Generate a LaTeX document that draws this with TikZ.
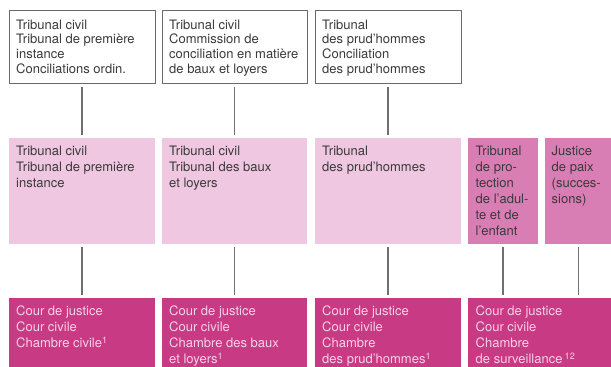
\documentclass[tikz,border=0pt]{standalone}
\usepackage{fontspec}
\setmainfont{TeX Gyre Heros}
\definecolor{framegray}{HTML}{6A6A6A}
\definecolor{linegray}{HTML}{707070}
\definecolor{inkgray}{HTML}{3A3A3A}
\definecolor{palepink}{HTML}{EFC7E0}
\definecolor{midpink}{HTML}{D97EB4}
\definecolor{deepmagenta}{HTML}{C93A85}
\definecolor{softwhite}{HTML}{F6D2E6}
\tikzset{
  box/.style={anchor=north west, inner sep=0pt, outer sep=0pt, rectangle},
  topbox/.style={box, draw=framegray, line width=0.8pt, fill=white},
  midbox/.style={box, fill=palepink},
  sidebox/.style={box, fill=midpink},
  courtbox/.style={box, fill=deepmagenta},
  lbl/.style={anchor=base west, inner sep=0pt, text=inkgray,
    font=\fontsize{13}{16}\selectfont},
  toplbl/.style={lbl, font=\fontsize{13}{14.7}\selectfont},
  courtlbl/.style={lbl, text=softwhite},
  conn/.style={draw=linegray, line width=1.3pt,
    shorten <=3pt, shorten >=2.5pt},
}
\newcommand{\lines}[2]{\parbox[t]{#1pt}{\raggedright #2}}
\begin{document}
\begin{tikzpicture}[x=1pt,y=-1pt]
\useasboundingbox (0,0) rectangle (611,367);

% first instance of conciliation
\node[topbox, minimum width=146pt, minimum height=73.5pt] (t1) at (9,10) {};
\node[topbox, minimum width=145pt, minimum height=73.5pt] (t2) at (162,10) {};
\node[topbox, minimum width=146pt, minimum height=73.5pt] (t3) at (315,10) {};
\node[toplbl] at (16,29) {\lines{135}{Tribunal civil\\Tribunal de première\\instance\\Conciliations ordin.}};
\node[toplbl] at (169,29) {\lines{135}{Tribunal civil\\Commission de\\conciliation en matière\\de baux et loyers}};
\node[toplbl] at (322,29) {\lines{135}{Tribunal\\des prud’hommes\\Conciliation\\des prud’hommes}};

% tribunals
\node[midbox, minimum width=146pt, minimum height=106.5pt] (m1) at (9,137.5) {};
\node[midbox, minimum width=145pt, minimum height=106.5pt] (m2) at (162,137.5) {};
\node[midbox, minimum width=146pt, minimum height=106.5pt] (m3) at (315,137.5) {};
\node[sidebox, minimum width=70pt, minimum height=106.5pt] (m4) at (468,137.5) {};
\node[sidebox, minimum width=67pt, minimum height=106.5pt] (m5) at (545,137.5) {};
\node[lbl] at (16,155.5) {\lines{135}{Tribunal civil\\Tribunal de première\\instance}};
\node[lbl] at (169,155.5) {\lines{135}{Tribunal civil\\Tribunal des baux\\et loyers}};
\node[lbl] at (322,155.5) {\lines{135}{Tribunal\\des prud’hommes}};
\node[lbl] at (475.5,155.5) {\lines{62}{Tribunal\\de pro-\\tection\\de l’adul-\\te et de\\l’enfant}};
\node[lbl] at (551.5,155.5) {\lines{60}{Justice\\de paix\\(succes-\\sions)}};

% courts of appeal
\node[courtbox, minimum width=146pt, minimum height=69.5pt] (b1) at (9,297.5) {};
\node[courtbox, minimum width=145pt, minimum height=69.5pt] (b2) at (162,297.5) {};
\node[courtbox, minimum width=146pt, minimum height=69.5pt] (b3) at (315,297.5) {};
\node[courtbox, minimum width=144pt, minimum height=69.5pt] (b4) at (468,297.5) {};
\node[courtlbl] at (16,315.5) {\lines{135}{Cour de justice\\Cour civile\\Chambre civile\textsuperscript{1}}};
\node[courtlbl] at (169,315.5) {\lines{135}{Cour de justice\\Cour civile\\Chambre des baux\\et loyers\textsuperscript{1}}};
\node[courtlbl] at (322,315.5) {\lines{135}{Cour de justice\\Cour civile\\Chambre\\des prud’hommes\textsuperscript{1}}};
\node[courtlbl] at (475.5,315.5) {\lines{135}{Cour de justice\\Cour civile\\Chambre\\de surveillance\,\textsuperscript{12}}};

% connectors
\draw[conn] (t1) -- (m1);
\draw[conn] (t2) -- (m2);
\draw[conn] (t3) -- (m3);
\draw[conn] (m1) -- (b1);
\draw[conn] (m2) -- (b2);
\draw[conn] (m3) -- (b3);
\draw[conn] (m4.south) -- (m4.south |- b4.north);
\draw[conn] (m5.south) -- (m5.south |- b4.north);
\end{tikzpicture}
\end{document}
